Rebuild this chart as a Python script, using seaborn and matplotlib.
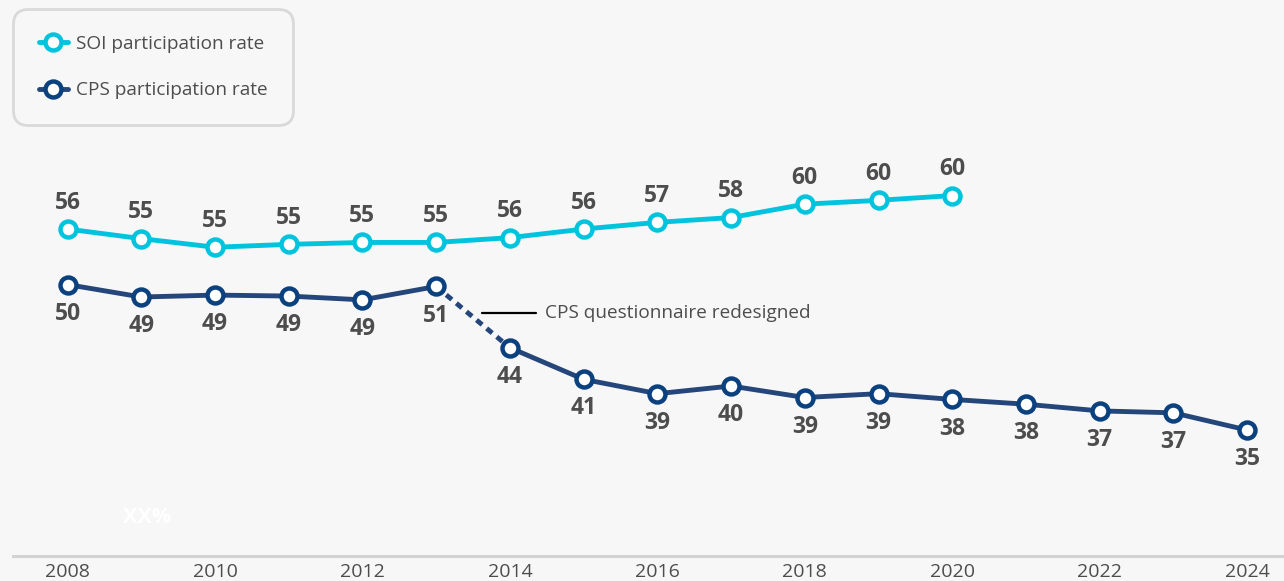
import matplotlib
matplotlib.use('Agg')
import matplotlib.pyplot as plt
import pandas as pd
import seaborn as sns
from matplotlib.lines import Line2D

# data
soi_years = list(range(2008, 2021))
soi_rate = [56.0, 55.0, 54.1, 54.4, 54.6, 54.6, 55.1, 56.0, 56.7, 57.2, 58.6, 59.0, 59.5]
soi_labels = ['56', '55', '55', '55', '55', '55', '56', '56', '57', '58', '60', '60', '60']

cps_years = list(range(2008, 2025))
cps_rate = [50.2, 48.9, 49.1, 49.0, 48.6, 50.0, 43.6, 40.3, 38.8, 39.6, 38.4, 38.8,
            38.2, 37.7, 37.0, 36.8, 35.0]
cps_labels = ['50', '49', '49', '49', '49', '51', '44', '41', '39', '40', '39', '39',
              '38', '38', '37', '37', '35']
redesign_year = 2014

x_ticks = list(range(2008, 2025, 2))

soi = pd.DataFrame({'year': soi_years, 'rate': soi_rate})
cps = pd.DataFrame({'year': cps_years, 'rate': cps_rate})

SOI_COL = '#00c4de'
CPS_LINE = '#25467a'
CPS_MARK = '#0b417e'
BG = '#f7f7f7'
TXT = '#4d4d4d'

sns.set_style("white", {'axes.facecolor': BG, 'figure.facecolor': BG})
plt.rcParams['font.family'] = ['Open Sans', 'DejaVu Sans']

fig = plt.figure(figsize=(12.84, 5.81), dpi=100)
ax = fig.add_axes([0.0101, 0.0435, 0.9899, 0.9565])

mk = dict(marker='o', markersize=11.5, markerfacecolor='white', markeredgewidth=3.2)

# dashed link across the questionnaire change
sns.lineplot(data=cps[cps['year'].between(redesign_year - 1, redesign_year)], x='year', y='rate',
             ax=ax, color=CPS_LINE, lw=3.5, linestyle=(0, (1.5, 1.2)), errorbar=None, zorder=2)
sns.lineplot(data=cps[cps['year'] < redesign_year], x='year', y='rate', ax=ax, color=CPS_LINE,
             lw=3.5, errorbar=None, markeredgecolor=CPS_MARK, zorder=3, **mk)
sns.lineplot(data=cps[cps['year'] >= redesign_year], x='year', y='rate', ax=ax, color=CPS_LINE,
             lw=3.5, errorbar=None, markeredgecolor=CPS_MARK, zorder=3, **mk)
sns.lineplot(data=soi, x='year', y='rate', ax=ax, color=SOI_COL, lw=3.5, errorbar=None,
             markeredgecolor=SOI_COL, zorder=3, **mk)

for x, v, t in zip(soi_years, soi_rate, soi_labels):
    ax.annotate(t, (x, v), xytext=(0, 19), textcoords='offset points', ha='center',
                va='center', fontsize=16.5, fontweight='bold', color=TXT)
for x, v, t in zip(cps_years, cps_rate, cps_labels):
    ax.annotate(t, (x, v), xytext=(0, -21), textcoords='offset points', ha='center',
                va='center', fontsize=16.5, fontweight='bold', color=TXT)

# redesign note
ax.plot([2013.62, 2014.36], [47.26, 47.26], color='black', lw=1.6, zorder=2)
ax.text(2014.48, 47.26, 'CPS questionnaire redesigned', ha='left', va='center',
        fontsize=13.7, color=TXT)

ax.text(0.1054, 0.0696, 'XX%', transform=ax.transAxes, ha='center', va='center',
        fontsize=15.5, fontweight='bold', color='white')

ax.set_xlim(2007.26, 2024.5)
ax.set_ylim(21.87, 79.93)
ax.set_yticks([])
ax.set_xticks(x_ticks)
ax.set_xticklabels([str(y) for y in x_ticks])
ax.tick_params(axis='x', length=0, pad=5.5, labelsize=14, labelcolor=TXT)
ax.set_xlabel('')
ax.set_ylabel('')
for s in ['left', 'right', 'top']:
    ax.spines[s].set_visible(False)
ax.spines['bottom'].set_color('#d3d3d3')
ax.spines['bottom'].set_linewidth(2.2)

handles = [
    Line2D([], [], color=SOI_COL, lw=3.5, markeredgecolor=SOI_COL, **mk),
    Line2D([], [], color=CPS_LINE, lw=3.5, markeredgecolor=CPS_MARK, **mk),
]
leg = fig.legend(handles, ['SOI participation rate', 'CPS participation rate'],
                 loc='upper left', bbox_to_anchor=(13 / 1284, 1 - 9 / 581),
                 bbox_transform=fig.transFigure, borderaxespad=0, fontsize=13.7,
                 labelcolor=TXT, frameon=True, fancybox=True, facecolor=BG,
                 edgecolor='#d9d9d9', framealpha=1, borderpad=1.35, labelspacing=1.5,
                 handlelength=1.55, handletextpad=0.42)
leg.get_frame().set_linewidth(2)
leg.get_frame().set_boxstyle('round', pad=0, rounding_size=0.8)

fig.savefig('out.png', dpi=100, facecolor=BG)
